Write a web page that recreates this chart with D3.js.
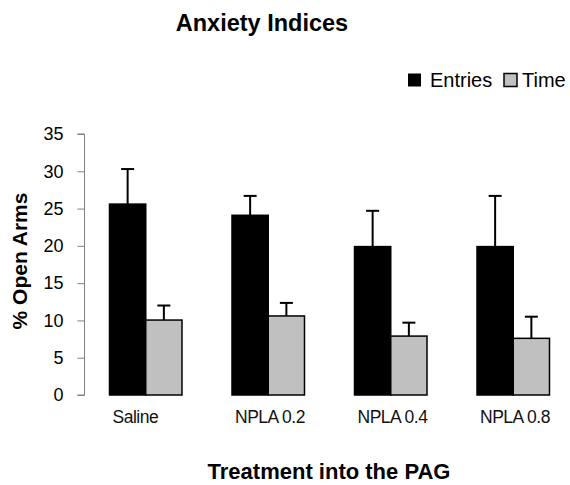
<!DOCTYPE html>
<html><head><meta charset="utf-8">
<script src="https://cdn.jsdelivr.net/npm/d3@7"></script>
<style>body{margin:0;background:#fff}svg{display:block}text{font-family:"Liberation Sans",Arial,sans-serif}</style>
</head><body><svg id="c" width="570" height="485"></svg>
<script>
const categories = ["Saline", "NPLA 0.2", "NPLA 0.4", "NPLA 0.8"];
const seriesNames = ["Entries", "Time"];
const entries = [25.6, 24.1, 19.9, 19.9];
const entriesErr = [4.7, 2.6, 4.8, 6.8];
const time = [10.05, 10.6, 7.9, 7.6];
const timeErr = [1.95, 1.75, 1.8, 2.9];
const yTicks = [0, 5, 10, 15, 20, 25, 30, 35];
const colors = ["#000000", "#c0c0c0"];

const svg = d3.select("#c");
const y = d3.scaleLinear().domain([0, 35]).range([395, 134]);
const x0 = d3.scaleBand().domain(categories).range([84.5, 574.5]).padding(0);
const x1 = d3.scaleBand().domain(seriesNames).range([0, x0.bandwidth()]).paddingInner(0).paddingOuter(0.69);

const data = categories.map((c, i) => ({
  cat: c,
  vals: [
    {s: "Entries", v: entries[i], e: entriesErr[i]},
    {s: "Time", v: time[i], e: timeErr[i]}
  ]
}));

// title
svg.append("text").attr("x", 262).attr("y", 31).attr("text-anchor", "middle")
  .attr("font-size", 23.5).attr("font-weight", "bold").text("Anxiety Indices");

// y axis
const yAxis = svg.append("g").attr("transform", "translate(84.5,0)")
  .call(d3.axisLeft(y).tickValues(yTicks).tickSize(7).tickPadding(14));
yAxis.select(".domain").attr("stroke", "#808080").attr("d", `M-7,${y(35)}H0V${y(0)}H-7`);
yAxis.selectAll(".tick line").attr("stroke", "#808080");
yAxis.selectAll(".tick text").attr("font-size", 18).attr("fill", "#000")
  .style("font-family", "Liberation Sans, Arial, sans-serif");

svg.append("text").attr("transform", "translate(27,261) rotate(-90)")
  .attr("text-anchor", "middle").attr("font-size", 21).attr("font-weight", "bold")
  .text("% Open Arms");

// bars
const g = svg.selectAll("g.grp").data(data).enter().append("g")
  .attr("transform", d => `translate(${x0(d.cat)},0)`);

const eb = g.selectAll("g.err").data(d => d.vals).enter().append("g");
eb.append("line")
  .attr("x1", d => x1(d.s) + x1.bandwidth() / 2).attr("x2", d => x1(d.s) + x1.bandwidth() / 2)
  .attr("y1", d => y(d.v)).attr("y2", d => y(d.v + d.e))
  .attr("stroke", "#000").attr("stroke-width", 2);
eb.append("line")
  .attr("x1", d => x1(d.s) + x1.bandwidth() / 2 - 6.5).attr("x2", d => x1(d.s) + x1.bandwidth() / 2 + 6.5)
  .attr("y1", d => y(d.v + d.e)).attr("y2", d => y(d.v + d.e))
  .attr("stroke", "#000").attr("stroke-width", 2);

g.selectAll("rect").data(d => d.vals).enter().append("rect")
  .attr("x", d => x1(d.s)).attr("width", x1.bandwidth())
  .attr("y", d => y(d.v)).attr("height", d => y(0) - y(d.v))
  .attr("fill", (d, i) => colors[i]).attr("stroke", "#000").attr("stroke-width", 1.5);

// category labels
svg.selectAll("text.cat").data(categories).enter().append("text")
  .attr("class", "cat")
  .attr("x", d => x0(d) + x1("Entries") + 3).attr("y", 423)
  .attr("font-size", 17.5).attr("letter-spacing", -0.5).attr("fill", "#111").text(d => d);

svg.append("text").attr("x", 329).attr("y", 479).attr("text-anchor", "middle")
  .attr("font-size", 22).attr("font-weight", "bold").text("Treatment into the PAG");

// legend
const leg = svg.append("g");
const legX = [408, 504];
const legTX = [430, 522];
seriesNames.forEach((s, i) => {
  leg.append("rect").attr("x", legX[i]).attr("y", 73.5).attr("width", 13).attr("height", 13)
    .attr("fill", colors[i]).attr("stroke", i ? "#000" : "none").attr("stroke-width", 1.5);
  leg.append("text").attr("x", legTX[i]).attr("y", 87).attr("font-size", 20).text(s);
});
</script></body></html>
